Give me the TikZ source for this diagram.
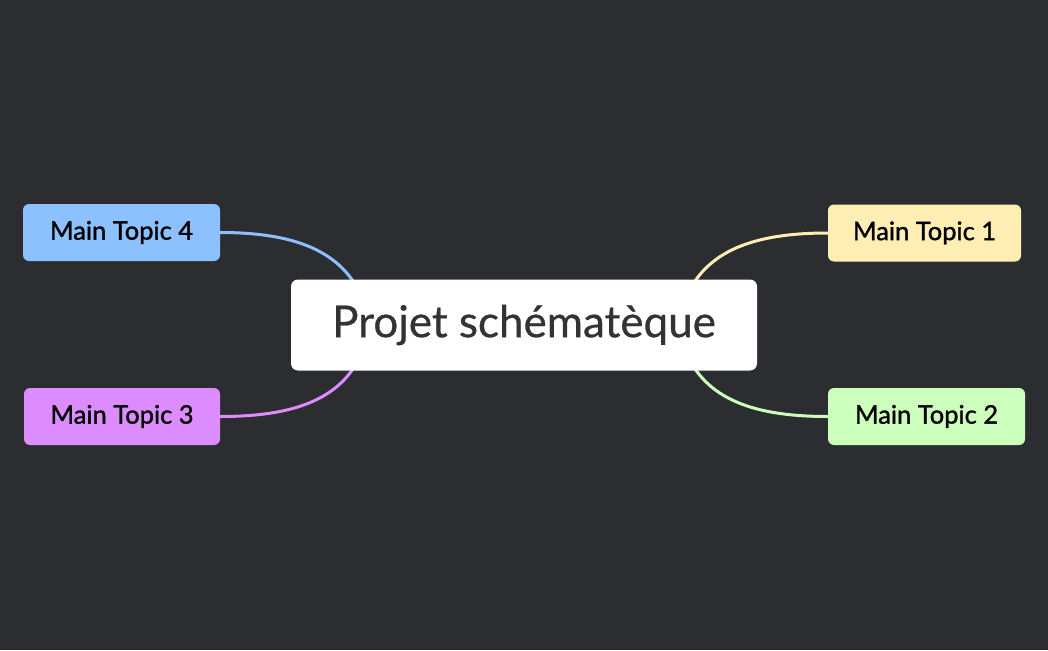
\documentclass[tikz,border=0pt]{standalone}
\usepackage{fontspec}
\setmainfont{Lato}
\newfontfamily\topicfont{Lato}[FakeBold=1.2]
\newfontfamily\titlefont{Lato}[FakeBold=0.6]
\definecolor{bg}{HTML}{2C2D31}
\definecolor{cyel}{HTML}{FFEEB3}
\definecolor{cgrn}{HTML}{CCFFBB}
\definecolor{cblu}{HTML}{8CC0FF}
\definecolor{cpur}{HTML}{DD8CFF}
\definecolor{ctxt}{HTML}{333333}
\begin{document}
\begin{tikzpicture}[x=1pt,y=-1pt,
  topic/.style={rounded corners=6pt, minimum width=#1, minimum height=57pt, inner sep=0pt, font=\topicfont\fontsize{25.5}{28}\selectfont, text=black},
  link/.style={line width=3pt}]
\fill[bg] (0,0) rectangle (1048,650);
\useasboundingbox (0,0) rectangle (1048,650);
\coordinate (cc) at (524,325);
\node[topic=193pt, fill=cyel] (t1) at (924.5,233) {\raisebox{-2pt}{Main Topic 1}};
\node[topic=197pt, fill=cgrn] (t2) at (926.5,416.5) {\raisebox{-2pt}{Main Topic 2}};
\node[topic=196pt, fill=cpur] (t3) at (122,416.5) {\raisebox{-2pt}{Main Topic 3}};
\node[topic=197pt, fill=cblu] (t4) at (121.5,232.5) {\raisebox{-2pt}{Main Topic 4}};
\draw[link, cyel] (t1.west) .. controls (755,233) and (705,250) .. (685,300);
\draw[link, cgrn] (t2.west) .. controls (755,416.5) and (705,400) .. (685,350);
\draw[link, cpur] (t3.east) .. controls (293,416.5) and (343,400) .. (363,350);
\draw[link, cblu] (t4.east) .. controls (293,232.5) and (343,250) .. (363,300);
\node[fill=white, rounded corners=7pt, minimum width=466pt, minimum height=91pt, inner sep=0pt, text=ctxt, font=\titlefont\fontsize{44}{50}\selectfont] (c) at (cc) {\raisebox{-3pt}{Projet schématèque}};
\end{tikzpicture}
\end{document}
